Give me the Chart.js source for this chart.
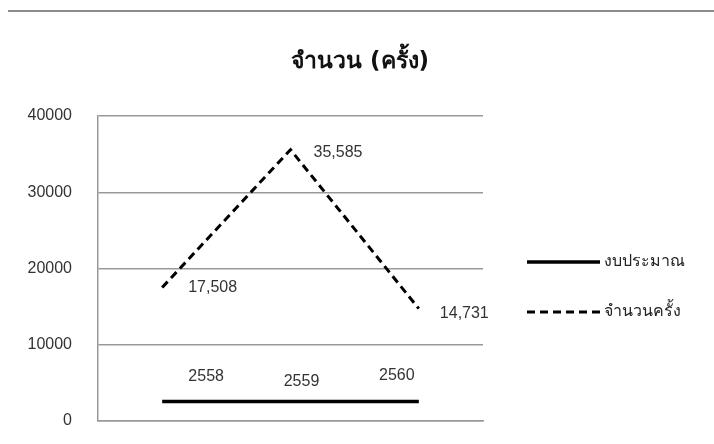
<!DOCTYPE html>
<html>
<head>
<meta charset="utf-8">
<script src="https://cdn.jsdelivr.net/npm/chart.js@4"></script>
<style>
  html, body { margin: 0; padding: 0; background: #fff; }
  #wrap { position: relative; width: 714px; height: 444px; }
  #topRule { position: absolute; left: 8px; right: 0; top: 10px; border-top: 2px solid #8c8c8c; }
</style>
</head>
<body>
<div id="wrap">
  <div id="topRule"></div>
  <canvas id="chart" width="714" height="444"></canvas>
</div>
<script>
// data
const categories = ['2558', '2559', '2560'];
const budgetValues = [2558, 2559, 2560];
const countValues = [17508, 35585, 14731];
const yTicks = [0, 10000, 20000, 30000, 40000];
const seriesNames = ['งบประมาณ', 'จำนวนครั้ง'];
const chartTitle = 'จำนวน (ครั้ง)';

const thaiFont = "Tahoma, 'DejaVu Sans', 'Noto Sans', sans-serif";
const numFont = "'Liberation Sans', Arial, sans-serif";

// title centred on the whole picture, not on the plot
const titlePlugin = {
    id: 'pageTitle',
    afterDraw(chart) {
        const ctx = chart.ctx;
        ctx.save();
        ctx.font = 'bold 23px ' + thaiFont;
        ctx.fillStyle = '#111';
        ctx.textAlign = 'center';
        ctx.textBaseline = 'middle';
        ctx.fillText(chartTitle, 360, 62);
        ctx.restore();
    }
};

// value labels, hand placed like the original
const labelPlugin = {
    id: 'valueLabels',
    afterDatasetsDraw(chart, args, opts) {
        const ctx = chart.ctx;
        ctx.save();
        ctx.font = '16px ' + numFont;
        ctx.fillStyle = '#333';
        ctx.textBaseline = 'middle';
        chart.data.datasets.forEach((ds, i) => {
            const meta = chart.getDatasetMeta(i);
            const offs = opts.offsets[i];
            meta.data.forEach((pt, j) => {
                const v = ds.data[j];
                const txt = i === 1 ? v.toLocaleString('en-US') : String(v);
                ctx.textAlign = offs[j][2];
                ctx.fillText(txt, pt.x + offs[j][0], pt.y + offs[j][1]);
            });
        });
        ctx.restore();
    }
};

const legendPlugin = {
    id: 'lineLegend',
    afterDraw(chart) {
        const ctx = chart.ctx;
        const x0 = chart.chartArea.right + 44;
        const rows = [262, 312];
        ctx.save();
        chart.data.datasets.forEach((ds, i) => {
            const y = rows[i];
            ctx.strokeStyle = ds.borderColor;
            ctx.lineWidth = ds.borderWidth;
            ctx.setLineDash(ds.borderDash || []);
            ctx.beginPath();
            ctx.moveTo(x0, y);
            ctx.lineTo(x0 + 73, y);
            ctx.stroke();
            ctx.setLineDash([]);
            ctx.fillStyle = '#222';
            ctx.font = '16px ' + thaiFont;
            ctx.textAlign = 'left';
            ctx.textBaseline = 'middle';
            ctx.fillText(ds.label, x0 + 77, y);
        });
        ctx.restore();
    }
};

new Chart(document.getElementById('chart'), {
    type: 'line',
    data: {
        labels: categories,
        datasets: [
            {
                label: seriesNames[0],
                data: budgetValues,
                borderColor: '#000',
                borderWidth: 3.5,
                pointRadius: 0,
                tension: 0,
            },
            {
                label: seriesNames[1],
                data: countValues,
                borderColor: '#000',
                borderWidth: 3,
                borderDash: [8, 5],
                pointRadius: 0,
                tension: 0,
            },
        ],
    },
    options: {
        responsive: false,
        animation: false,
        layout: { padding: { left: 0, right: 231, top: 116, bottom: 23 } },
        plugins: {
            legend: { display: false },
            tooltip: { enabled: false },
            title: { display: false },
            valueLabels: {
                offsets: [
                    [[44, -25, 'center'], [11, -20, 'center'], [-22, -26, 'center']],
                    [[26, 0, 'left'], [23, 3, 'left'], [21, 5, 'left']],
                ],
            },
        },
        scales: {
            x: {
                offset: true,
                grid: { display: false, drawTicks: false },
                border: { display: true, color: '#999', width: 1.5 },
                ticks: { display: false },
            },
            y: {
                min: yTicks[0],
                max: yTicks[yTicks.length - 1],
                afterBuildTicks(scale) { scale.ticks = yTicks.map(v => ({ value: v })); },
                afterFit(scale) { scale.width = 98; },
                grid: { color: '#999', lineWidth: 1.5, drawTicks: true, tickLength: 26, tickColor: 'rgba(0,0,0,0)' },
                border: { display: true, color: '#999', width: 1.5 },
                ticks: {
                    padding: 0,
                    color: '#333',
                    font: { family: numFont, size: 16 },
                    callback: v => String(v),
                },
            },
        },
    },
    plugins: [titlePlugin, labelPlugin, legendPlugin],
});
</script>
</body>
</html>
